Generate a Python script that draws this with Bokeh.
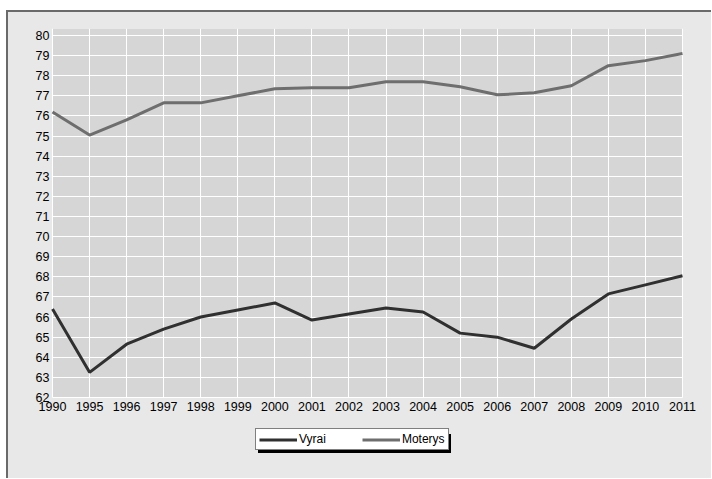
from bokeh.plotting import figure
from bokeh.models import Range1d, FixedTicker, Legend, LegendItem, BoxAnnotation
from bokeh.embed import file_html
from bokeh.resources import INLINE

years = ["1990", "1995", "1996", "1997", "1998", "1999", "2000", "2001", "2002",
         "2003", "2004", "2005", "2006", "2007", "2008", "2009", "2010", "2011"]
vyrai = [66.4, 63.25, 64.65, 65.4, 66.0, 66.35, 66.7, 65.85, 66.15,
         66.45, 66.25, 65.2, 65.0, 64.45, 65.9, 67.15, 67.6, 68.05]
moterys = [76.2, 75.05, 75.8, 76.65, 76.65, 77.0, 77.35, 77.4, 77.4,
           77.7, 77.7, 77.45, 77.05, 77.15, 77.5, 78.5, 78.75, 79.1]
y_ticks = list(range(62, 81))

xs = list(range(len(years)))

OUTER = "#e8e8e8"
PLOT_BG = "#d6d6d6"
FONT = "Liberation Sans"

Y_TOP = 80.348
Y_BOTTOM = 58.916
X_LEFT = -0.54
X_RIGHT = 17.54

p = figure(frame_width=670, frame_height=431, output_backend="svg", toolbar_location=None,
           x_range=Range1d(X_LEFT, X_RIGHT), y_range=Range1d(Y_BOTTOM, Y_TOP),
           min_border_left=24, min_border_right=9, min_border_top=16,
           min_border_bottom=19)
p.margin = (10, 0, 0, 6)
p.styles = {"border-top": "2px solid #6a6a6a", "border-left": "2px solid #6a6a6a",
            "background-color": OUTER}

p.background_fill_color = OUTER
p.border_fill_color = OUTER
p.outline_line_color = None

# gray plotting area spanning the category axis and the value ticks
p.add_layout(BoxAnnotation(left=xs[0], right=xs[-1], bottom=y_ticks[0],
                           fill_color=PLOT_BG, fill_alpha=1,
                           line_color="white", line_width=1, level="image"))

for ax in (p.xaxis[0], p.yaxis[0]):
    ax.axis_line_color = None
    ax.major_tick_line_color = None
    ax.minor_tick_line_color = None
    ax.major_tick_out = 0
    ax.major_tick_in = 0
    ax.major_label_text_font = FONT
    ax.major_label_text_font_size = "12.5px"
    ax.major_label_text_color = "black"

p.xaxis.ticker = FixedTicker(ticks=xs)
p.xaxis.major_label_overrides = {i: y for i, y in zip(xs, years)}
p.xaxis.major_label_standoff = 5
p.xaxis.fixed_location = y_ticks[0]
p.yaxis.ticker = FixedTicker(ticks=y_ticks)
p.yaxis.major_label_standoff = 3
p.yaxis.fixed_location = xs[0]

p.xgrid.ticker = FixedTicker(ticks=xs)
p.ygrid.ticker = FixedTicker(ticks=y_ticks)
p.xgrid.cross_bounds = (y_ticks[0], Y_TOP)
p.ygrid.cross_bounds = (xs[0], xs[-1])
for g in (p.xgrid[0], p.ygrid[0]):
    g.grid_line_color = "white"
    g.grid_line_width = 1
    g.grid_line_alpha = 1

r1 = p.line(xs, vyrai, line_color="#303030", line_width=3)
r2 = p.line(xs, moterys, line_color="#6e6e6e", line_width=3)


def make_legend(loc, shadow=False):
    if shadow:
        items = [LegendItem(label=" ", renderers=[r1]),
                 LegendItem(label=" ", renderers=[r2])]
    else:
        items = [LegendItem(label="Vyrai", renderers=[r1]),
                 LegendItem(label="Moterys", renderers=[r2])]
    lg = Legend(items=items, location=loc, orientation="horizontal")
    lg.glyph_width = 38
    lg.glyph_height = 11
    lg.label_height = 11
    lg.padding = 3
    lg.margin = 0
    lg.label_standoff = 2
    lg.label_text_font = FONT
    lg.label_text_font_size = "12px"
    lg.label_text_baseline = "middle"
    lg.background_fill_alpha = 1
    if shadow:
        lg.label_width = 20
        lg.spacing = 65
        lg.background_fill_color = "black"
        lg.border_line_color = "black"
        lg.label_text_color = "black"
    else:
        lg.spacing = 36
        lg.background_fill_color = "white"
        lg.border_line_color = "black"
        lg.border_line_width = 1
        lg.label_text_color = "black"
    return lg


p.add_layout(make_legend((226, 6), shadow=True), "center")
p.add_layout(make_legend((223, 9)), "center")

open("out.html", "w").write(file_html(p, INLINE))
